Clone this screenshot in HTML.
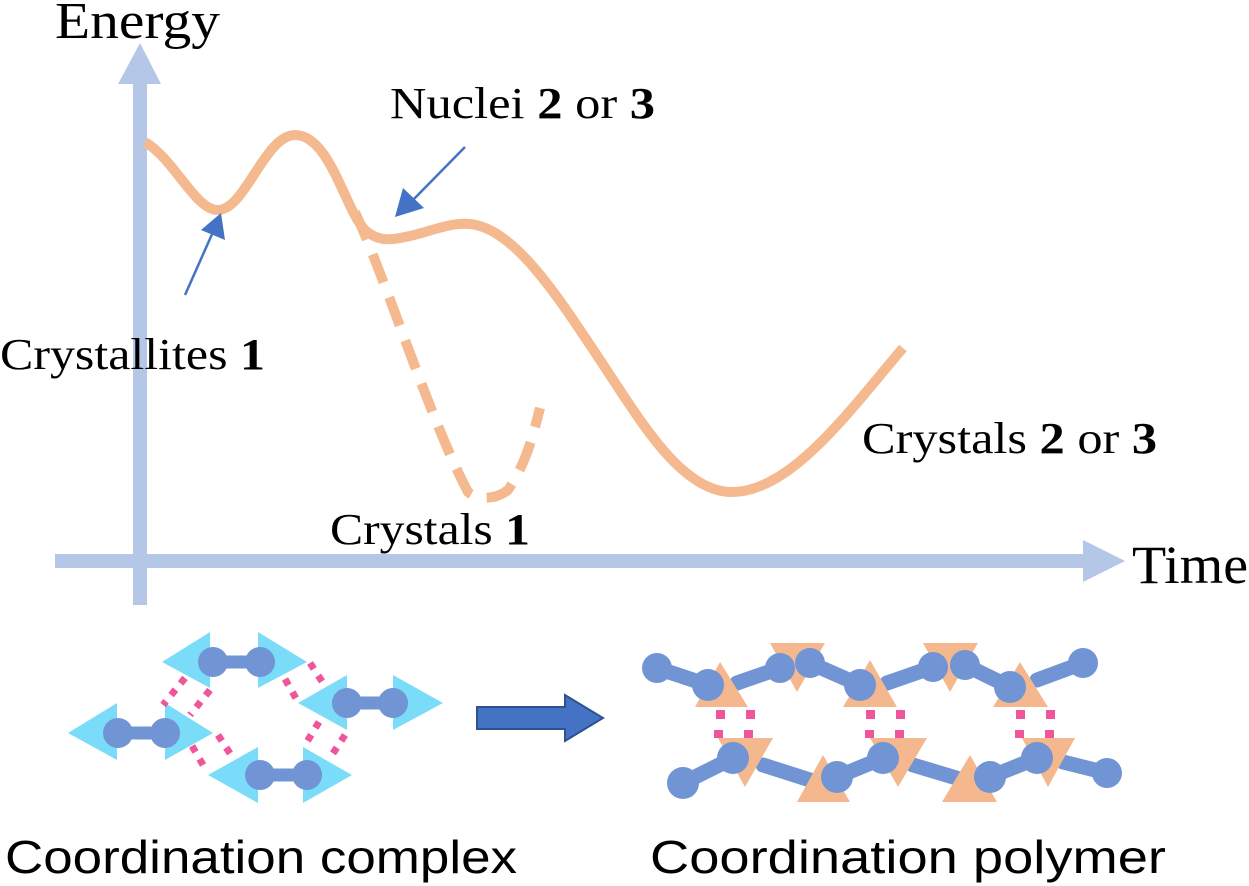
<!DOCTYPE html>
<html><head><meta charset="utf-8"><style>html,body{margin:0;padding:0;background:#fff}svg{display:block}</style></head>
<body>
<svg width="1249" height="886" viewBox="0 0 1249 886" xmlns="http://www.w3.org/2000/svg">
<!-- axes -->
<g fill="#b4c7e7" stroke="none">
<rect x="133" y="80" width="14" height="525"/>
<polygon points="118,84 161,84 140,43"/>
<rect x="55" y="554" width="1030" height="14"/>
<polygon points="1083,540 1083,582 1125,561"/>
</g>
<!-- curves -->
<g fill="none" stroke="#f4b98e" stroke-width="10" stroke-linecap="butt">
<path d="M145,142 C175,160 195,210 218,210 C245,210 265,135 295,135 C330,135 345,210 365,230 C378,242 392,240 405,237 C430,232 450,222 470,224 C515,228 560,300 600,360 C640,420 680,490 730,492 C790,494 850,410 903,348"/>
<path d="M355,212 C390,290 430,420 468,492 C478,500 495,500 508,490 C525,465 532,440 540,408" stroke-dasharray="30,16"/>
</g>
<!-- blue pointer arrows -->
<g stroke="#4472c4" stroke-width="2.5" fill="#4472c4">
<line x1="465" y1="147" x2="410" y2="203"/>
<polygon points="395,217 403,188 424,208" stroke="none"/>
<line x1="185" y1="295" x2="213" y2="232"/>
<polygon points="221,213 225,240 201,230" stroke="none"/>
</g>
<!-- big arrow -->
<polygon points="477,707 565,707 565,695 603,718 565,741 565,729 477,729" fill="#4472c4" stroke="#2f528f" stroke-width="2"/>
<!-- coordination complex -->
<g fill="#7adcf8">
<polygon points="162,662 210,632 210,688"/><polygon points="307,662 258,632 258,688"/>
<polygon points="298,703 347,675 347,730"/><polygon points="443,703 393,675 393,730"/>
<polygon points="68,733 117,703 117,760"/><polygon points="213,733 165,703 165,760"/>
<polygon points="208,775 258,747 258,803"/><polygon points="352,775 303,747 303,803"/>
</g>
<g stroke="#f0559b" stroke-width="7" stroke-dasharray="7,8" fill="none">
<line x1="185" y1="678" x2="163" y2="705"/>
<line x1="210" y1="690" x2="190" y2="715"/>
<line x1="218" y1="735" x2="233" y2="758"/>
<line x1="192" y1="746" x2="206" y2="770"/>
<line x1="310" y1="663" x2="325" y2="686"/>
<line x1="285" y1="679" x2="298" y2="702"/>
<line x1="345" y1="735" x2="330" y2="758"/>
<line x1="319" y1="722" x2="305" y2="745"/>
</g>
<g stroke="#7094d4" stroke-width="13" fill="#7094d4">
<line x1="213" y1="662" x2="260" y2="662"/><circle cx="213" cy="662" r="15" stroke="none"/><circle cx="260" cy="662" r="15" stroke="none"/>
<line x1="347" y1="703" x2="393" y2="703"/><circle cx="347" cy="703" r="15" stroke="none"/><circle cx="393" cy="703" r="15" stroke="none"/>
<line x1="118" y1="733" x2="165" y2="733"/><circle cx="118" cy="733" r="15" stroke="none"/><circle cx="165" cy="733" r="15" stroke="none"/>
<line x1="260" y1="775" x2="307" y2="775"/><circle cx="260" cy="775" r="15" stroke="none"/><circle cx="307" cy="775" r="15" stroke="none"/>
</g>
<!-- polymer -->
<g fill="#f0559b">
<rect x="716" y="710" width="9" height="9"/><rect x="746" y="710" width="9" height="9"/>
<rect x="714" y="730" width="9" height="8"/><rect x="744" y="730" width="9" height="8"/>
<rect x="866" y="710" width="9" height="9"/><rect x="896" y="710" width="9" height="9"/>
<rect x="865" y="730" width="9" height="8"/><rect x="895" y="730" width="9" height="8"/>
<rect x="1016" y="710" width="9" height="9"/><rect x="1046" y="710" width="9" height="9"/>
<rect x="1015" y="730" width="9" height="8"/><rect x="1045" y="730" width="9" height="8"/>
</g>
<g stroke="#7094d4" stroke-width="15" fill="none" stroke-linecap="round">
<polyline points="657,668 708,685"/><polyline points="737,683 780,668"/>
<polyline points="810,663 860,685"/><polyline points="887,683 933,667"/>
<polyline points="965,665 1010,687"/><polyline points="1037,680 1083,663"/>
<polyline points="683,783 733,758"/><polyline points="763,765 810,780"/>
<polyline points="837,777 883,758"/><polyline points="913,765 963,780"/>
<polyline points="990,777 1037,758"/><polyline points="1063,762 1107,773"/>
</g>
<g fill="#f5b88e">
<polygon points="720,662 695,707 748,707"/><polygon points="770,643 825,643 797,692"/>
<polygon points="870,660 843,707 897,707"/><polygon points="923,643 978,643 950,692"/>
<polygon points="1020,662 993,707 1048,707"/>
<polygon points="718,738 773,738 745,787"/><polygon points="823,755 797,802 850,802"/>
<polygon points="870,738 927,738 898,787"/><polygon points="970,755 942,802 997,802"/>
<polygon points="1022,738 1075,738 1048,787"/>
</g>
<g fill="#7094d4">
<circle cx="657" cy="668" r="15"/><circle cx="708" cy="685" r="16"/>
<circle cx="780" cy="668" r="15"/><circle cx="810" cy="663" r="15"/><circle cx="860" cy="685" r="16"/>
<circle cx="933" cy="667" r="15"/><circle cx="965" cy="665" r="15"/><circle cx="1010" cy="687" r="16"/>
<circle cx="1083" cy="663" r="15"/>
<circle cx="683" cy="783" r="16"/><circle cx="733" cy="758" r="16"/>
<circle cx="837" cy="777" r="16"/><circle cx="883" cy="758" r="16"/>
<circle cx="990" cy="777" r="16"/><circle cx="1037" cy="758" r="16"/><circle cx="1107" cy="773" r="15"/>
</g>
<!-- text on top -->
<g font-family="Liberation Serif, serif" fill="#000">
<text x="55" y="38" font-size="52" textLength="165" lengthAdjust="spacingAndGlyphs">Energy</text>
<text x="390" y="118" font-size="44" textLength="265" lengthAdjust="spacingAndGlyphs">Nuclei <tspan font-weight="bold">2</tspan> or <tspan font-weight="bold">3</tspan></text>
<text x="0" y="369" font-size="44" textLength="265" lengthAdjust="spacingAndGlyphs">Crystallites <tspan font-weight="bold">1</tspan></text>
<text x="330" y="544" font-size="44" textLength="200" lengthAdjust="spacingAndGlyphs">Crystals <tspan font-weight="bold">1</tspan></text>
<text x="862" y="453" font-size="44" textLength="295" lengthAdjust="spacingAndGlyphs">Crystals <tspan font-weight="bold">2</tspan> or <tspan font-weight="bold">3</tspan></text>
<text x="1132" y="583" font-size="54" textLength="116" lengthAdjust="spacingAndGlyphs">Time</text>
</g>
<g font-family="Liberation Sans, sans-serif" font-size="46" fill="#000">
<text x="5" y="873" textLength="512" lengthAdjust="spacingAndGlyphs">Coordination complex</text>
<text x="650" y="873" textLength="516" lengthAdjust="spacingAndGlyphs">Coordination polymer</text>
</g>
</svg>
</body></html>
